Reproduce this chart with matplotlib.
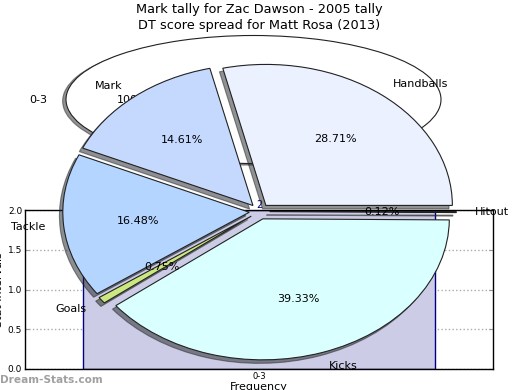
import matplotlib
matplotlib.use("Agg")
import matplotlib.pyplot as plt

# ---- data ----
front_title = "DT score spread for Matt Rosa (2013)"
front_labels = ["Handballs", "Mark", "Tackle", "Goals", "Kicks", "Hitout"]
front_values = [28.71, 14.61, 16.48, 0.75, 39.33, 0.12]
front_colors = ["#EBF1FF", "#C5D9FF", "#B3D5FF", "#CCE680", "#D9FFFF", "#E6E6FF"]

back_title = "Mark tally for Zac Dawson - 2005 tally"
back_labels = ["0-3"]
back_values = [100.0]

bar_categories = ["0-3"]
bar_values = [2]

W, H = 520, 390
fig = plt.figure(figsize=(W / 100, H / 100), dpi=100)

# ---- background bar chart ----
axb = fig.add_axes([25 / W, (H - 369) / H, 468 / W, 159 / H])
xs = list(range(len(bar_categories)))
axb.bar(xs, bar_values, width=0.75, color="#CCCCE6", edgecolor="#000080",
        linewidth=1, zorder=2)
for x, v in zip(xs, bar_values):
    axb.text(x, v, str(v), ha="center", va="bottom", color="#000080", fontsize=7)
axb.set_xlim(-0.5, len(bar_categories) - 0.5)
axb.set_ylim(0, 2.0)
axb.set_yticks([0.0, 0.5, 1.0, 1.5, 2.0])
axb.set_yticklabels(["0.0", "0.5", "1.0", "1.5", "2.0"], fontsize=6.5)
axb.set_xticks(xs)
axb.set_xticklabels(bar_categories, fontsize=6)
axb.tick_params(direction="in", length=3, color="#999999", right=True, pad=2)
axb.yaxis.grid(True, linestyle=":", color="#aaaaaa", linewidth=1, zorder=0)
axb.set_axisbelow(True)
axb.set_ylabel("Stat Intervals", fontsize=8, labelpad=3)
axb.set_xlabel("Frequency", fontsize=8, labelpad=1)
for s in axb.spines.values():
    s.set_color("black")
    s.set_linewidth(1)

shadow_style = {"ox": -0.013, "oy": -0.018, "shade": 0.85}

# ---- back pie ----
axp2 = fig.add_axes([0, 0, 1, 1])
axp2.pie(back_values, labels=back_labels, colors=["white"], startangle=0,
         autopct="%.2f%%", shadow=shadow_style,
         wedgeprops={"edgecolor": "#222222", "linewidth": 0.8},
         textprops={"fontsize": 8})
cx2, cy2, rx2, ry2 = 253.5, 99.5, 187.5, 64
axp2.set_aspect("auto")
axp2.set_xlim(-cx2 / rx2, (W - cx2) / rx2)
axp2.set_ylim((cy2 - H) / ry2, cy2 / ry2)
axp2.set_position([0, 0, 1, 1])
axp2.axis("off")
axp2.patch.set_alpha(0)

# ---- front pie ----
axp = fig.add_axes([0, 0, 1, 1])
axp.pie(front_values, labels=front_labels, colors=front_colors, startangle=0,
        explode=[0.055] * len(front_values), autopct="%.2f%%",
        shadow=shadow_style,
        wedgeprops={"edgecolor": "#222222", "linewidth": 0.8},
        textprops={"fontsize": 8})
cx, cy, rx, ry = 259.5, 211.5, 186.5, 141
axp.set_aspect("auto")
axp.set_xlim(-cx / rx, (W - cx) / rx)
axp.set_ylim((cy - H) / ry, cy / ry)
axp.set_position([0, 0, 1, 1])
axp.axis("off")
axp.patch.set_alpha(0)

# ---- titles and watermark ----
fig.text(259 / W, 1 - 10 / H, back_title, ha="center", va="center", fontsize=9.3)
fig.text(259 / W, 1 - 25.5 / H, front_title, ha="center", va="center", fontsize=9.3)
fig.text(0.0, 1 - 380 / H, "Dream-Stats.com", ha="left", va="center",
         fontsize=7.6, color="#a0a0a0", fontweight="bold")

fig.savefig("out.png", dpi=100)
